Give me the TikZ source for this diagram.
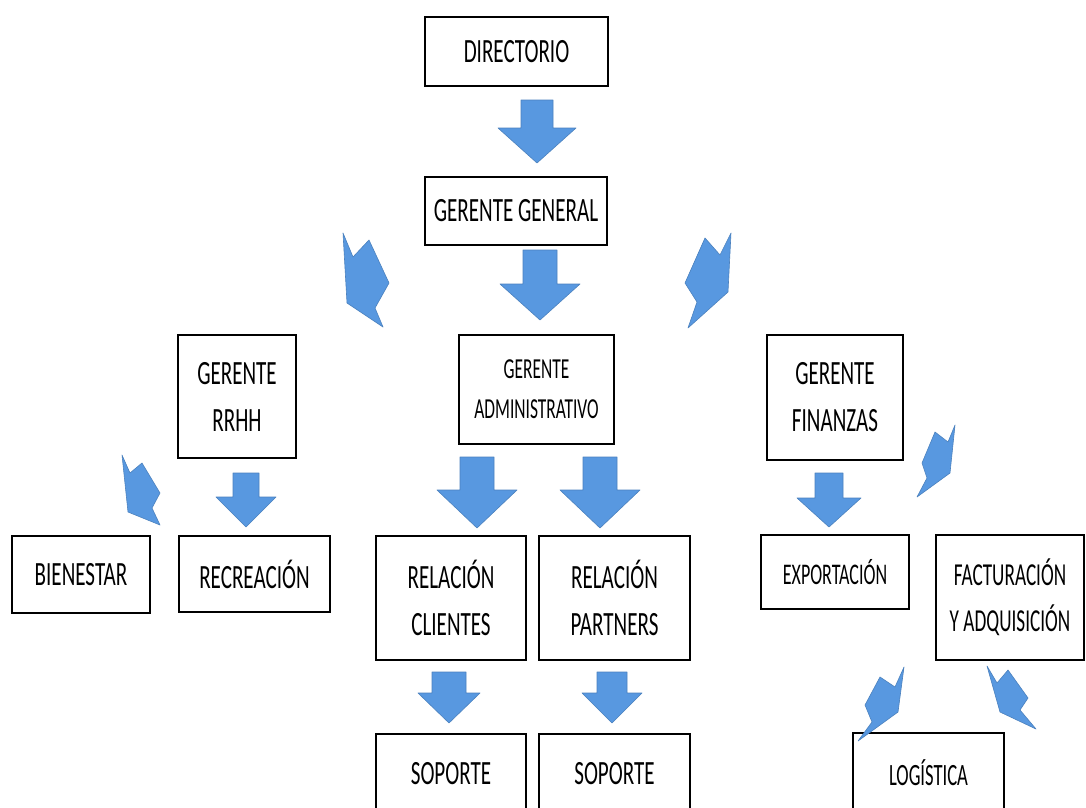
\documentclass[tikz,border=0pt]{standalone}
\usepackage{fontspec}
\newfontfamily\boxfont{Carlito}[FakeStretch=0.62]
\newfontfamily\narrowfont{Carlito}[FakeStretch=0.6]
\definecolor{barrowblue}{RGB}{88,152,224}
\tikzset{
  box/.style={draw=black, line width=2.4pt, inner sep=0pt, align=center,
    font=\boxfont\fontsize{34}{47}\selectfont},
  barrow/.style={fill=barrowblue, draw=barrowblue!85!black, line width=0.6pt, line join=round}
}
\newcommand{\darrow}[6]{%
  \filldraw[barrow] (#1-#6,#2) -- (#1+#6,#2) -- (#1+#6,#3) -- (#1+#5,#3) -- (#1,#4)
    -- (#1-#5,#3) -- (#1-#6,#3) -- cycle;}
\begin{document}
\begin{tikzpicture}[x=1pt,y=-1pt]
\clip (0,0) rectangle (1086,807);
\fill[white] (0,0) rectangle (1086,807);
% boxes
\node[box, minimum width=183pt, minimum height=69pt] (dir) at (516.5,51.5) {DIRECTORIO};
\node[box, minimum width=182pt, minimum height=68pt] (gg) at (516,211) {GERENTE GENERAL};
\node[box, minimum width=118pt, minimum height=123pt] (rrhh) at (237,396.5) {GERENTE\\RRHH};
\node[box, minimum width=155pt, minimum height=109pt, font=\narrowfont\fontsize{29}{40}\selectfont] (adm) at (536.5,389.5) {GERENTE\\ADMINISTRATIVO};
\node[box, minimum width=136pt, minimum height=125pt] (fin) at (835,397.5) {GERENTE\\FINANZAS};
\node[box, minimum width=138pt, minimum height=77pt] (bien) at (81,574.5) {BIENESTAR};
\node[box, minimum width=151pt, minimum height=76pt] (recr) at (254.5,574) {RECREACIÓN};
\node[box, minimum width=150pt, minimum height=124pt] (cli) at (451,598) {RELACIÓN\\CLIENTES};
\node[box, minimum width=151pt, minimum height=124pt] (par) at (614.5,598) {RELACIÓN\\PARTNERS};
\node[box, minimum width=148pt, minimum height=74pt, font=\narrowfont\fontsize{30}{40}\selectfont] (exp) at (835,572) {EXPORTACIÓN};
\node[box, minimum width=148pt, minimum height=125pt, font=\narrowfont\fontsize{32}{46}\selectfont] (fac) at (1010,597.5) {FACTURACIÓN\\Y ADQUISICIÓN};
\node[box, minimum width=150pt, minimum height=80pt] (sop1) at (451,774) {SOPORTE};
\node[box, minimum width=151pt, minimum height=80pt] (sop2) at (614.5,774) {SOPORTE};
\node[box, minimum width=151pt, minimum height=80pt, font=\narrowfont\fontsize{31}{40}\selectfont] (log) at (928.5,773) {LOGÍSTICA};
% straight block arrows
\darrow{537}{100}{128}{163}{39}{16}
\darrow{540}{250}{284}{320}{40}{17}
\darrow{246}{473}{497}{527}{30}{13}
\darrow{477}{457}{490}{528}{40}{17}
\darrow{600}{457}{490}{528}{40}{17}
\darrow{829}{473}{498}{527}{32}{14}
\darrow{449}{672}{693}{723}{31}{17}
\darrow{612}{672}{693}{723}{30}{15}
% bent block arrows
\filldraw[barrow] (343,233) -- (353,257) -- (369,240) -- (389,283) -- (375,308) -- (383,327) -- (347,303) -- cycle;
\filldraw[barrow] (731,233) -- (720,255) -- (705,238) -- (685,283) -- (697,302) -- (688,328) -- (728,292) -- cycle;
\filldraw[barrow] (122,455) -- (130,473) -- (142,463) -- (160,493) -- (152,508) -- (160,525) -- (128,512) -- cycle;
\filldraw[barrow] (955,425) -- (948,442) -- (935,432) -- (922,463) -- (927,478) -- (917,497) -- (950,473) -- cycle;
\filldraw[barrow] (904,667) -- (895,687) -- (880,677) -- (865,705) -- (872,722) -- (858,741) -- (898,712) -- cycle;
\filldraw[barrow] (987,666) -- (997,683) -- (1008,670) -- (1028,698) -- (1020,710) -- (1036,729) -- (1000,712) -- cycle;
\end{tikzpicture}
\end{document}
